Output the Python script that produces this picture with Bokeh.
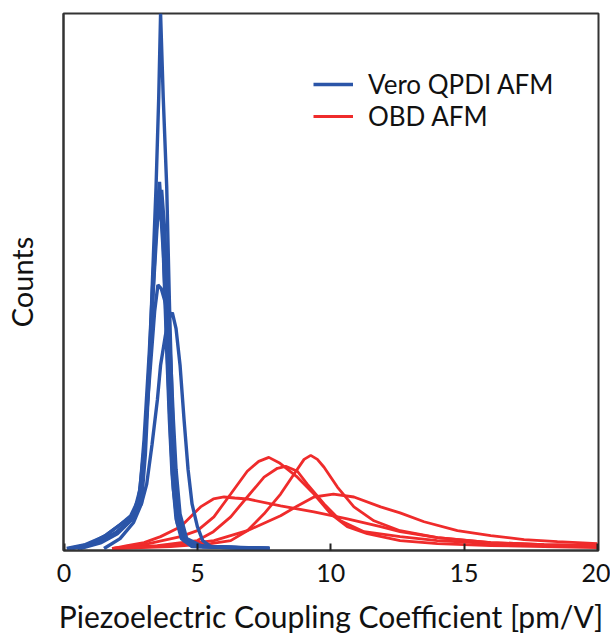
from bokeh.plotting import figure
from bokeh.models import FixedTicker, Legend, LegendItem, Range1d
from bokeh.embed import file_html
from bokeh.resources import INLINE

# ---- data (counts in arbitrary units) ----
x_ticks = [0, 5, 10, 15, 20]

qpdi_x1 = [0.2, 0.8, 1.4, 2.0, 2.5, 2.8, 3.0, 3.2, 3.3, 3.45, 3.55, 3.62, 3.72, 3.85, 3.95, 4.05, 4.15, 4.3, 4.5, 5.0, 6.0, 7.7]
qpdi_y1 = [0, 3, 8, 17, 29, 45, 90, 185, 260, 365, 455, 540, 455, 365, 250, 150, 80, 30, 10, 3, 1, 0]
qpdi_x2 = [0.3, 1.0, 1.6, 2.2, 2.6, 2.85, 3.0, 3.2, 3.35, 3.5, 3.58, 3.68, 3.8, 3.9, 4.0, 4.1, 4.25, 4.5, 5.0, 7.7]
qpdi_y2 = [0, 5, 14, 26, 34, 60, 110, 200, 280, 345, 370, 330, 250, 175, 110, 60, 25, 8, 2, 0]
qpdi_x3 = [0.5, 1.3, 1.9, 2.4, 2.7, 2.95, 3.1, 3.3, 3.5, 3.66, 3.78, 3.9, 4.0, 4.1, 4.2, 4.35, 4.6, 5.2, 7.7]
qpdi_y3 = [0, 6, 15, 27, 36, 75, 140, 240, 330, 362, 320, 230, 160, 100, 55, 22, 7, 2, 0]
qpdi_x4 = [0.1, 0.8, 1.5, 2.1, 2.5, 2.8, 3.0, 3.2, 3.4, 3.52, 3.65, 3.8, 3.92, 4.0, 4.1, 4.2, 4.35, 4.6, 5.2, 7.7]
qpdi_y4 = [0, 4, 12, 24, 33, 50, 100, 170, 240, 266, 262, 248, 225, 190, 130, 80, 35, 10, 2, 0]
qpdi_x5 = [0.6, 1.4, 2.0, 2.5, 2.9, 3.1, 3.3, 3.5, 3.62, 3.8, 3.93, 4.06, 4.2, 4.35, 4.5, 4.65, 4.8, 5.0, 5.2, 5.5, 7.7]
qpdi_y5 = [0, 6, 15, 28, 45, 65, 105, 150, 185, 215, 232, 238, 222, 185, 130, 80, 45, 22, 8, 2, 0]
qpdi_x6 = [1.5, 2.1, 2.6, 2.9, 3.05, 3.25, 3.45, 3.6, 3.72, 3.85, 3.95, 4.05, 4.2, 4.4, 4.8, 7.7]
qpdi_y6 = [0, 10, 26, 45, 95, 210, 320, 350, 300, 200, 130, 75, 30, 10, 2, 0]

obd_x1 = [1.8, 3.0, 4.37, 5.0, 5.62, 6.25, 6.87, 7.3, 7.68, 8.1, 8.75, 9.37, 10.0, 10.62, 11.37, 12.6, 14.0, 16.0, 18.0, 20.0]
obd_y1 = [0, 4, 12, 18, 32, 55, 78, 88, 92, 86, 72, 55, 35, 22, 15, 8, 5, 3, 2, 1]
obd_x2 = [1.8, 3.5, 5.0, 5.6, 6.25, 6.87, 7.5, 8.0, 8.31, 8.75, 9.12, 9.75, 10.37, 11.25, 12.6, 14.0, 16.0, 18.0, 20.0]
obd_y2 = [0, 3, 8, 17, 32, 52, 72, 81, 83, 78, 65, 45, 28, 17, 12, 8, 5, 3, 2]
obd_x3 = [1.8, 4.0, 5.5, 6.25, 6.87, 7.5, 8.12, 8.62, 9.0, 9.25, 9.5, 9.75, 10.25, 10.87, 11.62, 12.6, 14.0, 16.0, 18.0, 20.0]
obd_y3 = [0, 2, 5, 8, 18, 35, 55, 75, 90, 94, 90, 82, 62, 42, 28, 18, 11, 6, 4, 3]
obd_x4 = [1.8, 2.37, 3.0, 3.62, 4.37, 5.12, 5.6, 6.0, 6.4, 6.87, 8.12, 9.37, 10.62, 11.87, 12.6, 14.0, 16.0, 18.0, 20.0]
obd_y4 = [0, 3, 6, 12, 22, 42, 50, 52, 51, 50, 43, 37, 30, 22, 17, 11, 6, 4, 3]
obd_x5 = [1.8, 4.0, 5.62, 6.87, 8.12, 8.75, 9.37, 10.1, 10.87, 11.87, 12.6, 13.5, 14.75, 16.0, 17.25, 18.5, 20.0]
obd_y5 = [0, 3, 8, 18, 33, 43, 52, 55, 52, 42, 36, 27, 18, 13, 9, 7, 5]

qpdi_series = [(qpdi_x1, qpdi_y1), (qpdi_x2, qpdi_y2), (qpdi_x3, qpdi_y3),
               (qpdi_x4, qpdi_y4), (qpdi_x5, qpdi_y5), (qpdi_x6, qpdi_y6)]
obd_series = [(obd_x1, obd_y1), (obd_x2, obd_y2), (obd_x3, obd_y3),
              (obd_x4, obd_y4), (obd_x5, obd_y5)]

BLUE = "#2b55a8"
RED = "#ef2b2b"
FONT = "Lato"

p = figure(width=610, height=636, output_backend="svg", toolbar_location=None,
           x_range=Range1d(-0.02, 20.04), y_range=Range1d(-2, 540),
           min_border_left=63, min_border_right=12, min_border_top=13, min_border_bottom=81)

red_r = [p.line(x, y, line_color=RED, line_width=2.8) for x, y in obd_series]
blue_r = [p.line(x, y, line_color=BLUE, line_width=3.4) for x, y in qpdi_series]

p.grid.visible = False
p.background_fill_color = "white"
p.border_fill_color = "white"
p.outline_line_color = "#333333"
p.outline_line_width = 2

p.xaxis.ticker = FixedTicker(ticks=x_ticks)
p.xaxis.minor_tick_line_color = None
p.xaxis.major_tick_in = 7
p.xaxis.major_tick_out = 0
p.xaxis.major_tick_line_color = "#222222"
p.xaxis.major_tick_line_width = 2
p.xaxis.axis_line_color = "#333333"
p.xaxis.axis_line_width = 2
p.xaxis.major_label_text_font = FONT
p.xaxis.major_label_text_font_size = "25px"
p.xaxis.major_label_text_color = "#111111"
p.xaxis.major_label_standoff = 13
p.xaxis.axis_label = "Piezoelectric Coupling Coefficient [pm/V]"
p.xaxis.axis_label_text_font = FONT
p.xaxis.axis_label_text_font_size = "30px"
p.xaxis.axis_label_text_font_style = "normal"
p.xaxis.axis_label_text_color = "#111111"
p.xaxis.axis_label_standoff = 13

p.yaxis.ticker = FixedTicker(ticks=[])
p.yaxis.minor_tick_line_color = None
p.yaxis.major_tick_line_color = None
p.yaxis.major_label_text_color = None
p.yaxis.axis_line_color = "#333333"
p.yaxis.axis_line_width = 2
p.yaxis.axis_label = "Counts"
p.yaxis.axis_label_text_font = FONT
p.yaxis.axis_label_text_font_size = "29px"
p.yaxis.axis_label_text_font_style = "normal"
p.yaxis.axis_label_text_color = "#111111"
p.yaxis.axis_label_standoff = 25

legend = Legend(items=[LegendItem(label="Vero QPDI AFM", renderers=[blue_r[0]]),
                       LegendItem(label="OBD AFM", renderers=[red_r[0]])],
                location=(250, 418), orientation="vertical",
                border_line_color=None, background_fill_alpha=0,
                padding=0, margin=0, spacing=-6,
                glyph_width=40, glyph_height=26, label_height=26,
                label_standoff=15,
                label_text_font=FONT, label_text_font_size="26px",
                label_text_color="#111111")
p.add_layout(legend)

open("out.html", "w").write(file_html(p, INLINE))
